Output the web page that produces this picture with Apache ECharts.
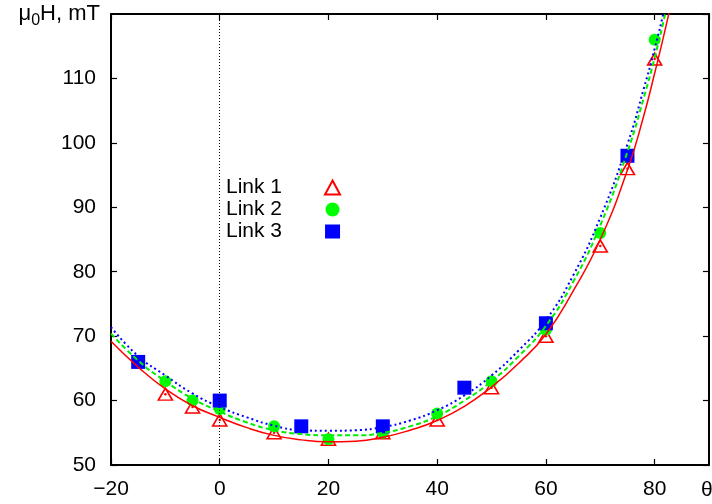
<!DOCTYPE html>
<html><head><meta charset="utf-8">
<script src="https://cdn.jsdelivr.net/npm/echarts@6/dist/echarts.min.js"></script>
<style>html,body{margin:0;padding:0;background:#fff}#c{width:712px;height:504px}</style>
</head><body><div id="c"></div>
<script>
// ---- data ----
const xTickStep = 20;
const yTickStep = 10;
const link1X = [-10, -5, 0, 10, 20, 30, 40, 50, 60, 70, 75, 80];
const link1Y = [61, 59, 57, 55, 54, 55, 57, 62, 70, 84, 96, 113];
const link2X = [-10, -5, 0, 10, 20, 30, 40, 50, 60, 70, 80];
const link2Y = [63, 60, 58.7, 56, 54, 55, 58, 63, 71, 86, 116];
const link3X = [-15, 0, 15, 30, 45, 60, 75];
const link3Y = [66, 60, 56, 56, 62, 72, 98];
const fitX  = [-20, -15, -10, -5, 0, 5, 10, 15, 20, 25, 30, 35, 40, 45, 50, 55, 60, 65, 70, 75, 78, 80, 82, 84];
const fit1Y = [69.2, 65.2, 61.8, 59.2, 57.4, 55.8, 54.6, 53.9, 53.6, 53.7, 54.3, 55.4, 56.9, 59.1, 62.1, 65.8, 70.3, 77.0, 85.0, 95.8, 104.2, 110.8, 117.8, 125.5];
const fit2Y = [70.4, 66.2, 63.0, 60.3, 58.3, 56.6, 55.4, 54.8, 54.6, 54.6, 55.0, 56.0, 57.6, 60.0, 63.0, 66.9, 71.6, 78.4, 87.2, 98.6, 107.0, 113.2, 120.2, 128.0];
const fit3Y = [71.4, 66.9, 63.9, 61.1, 59.0, 57.4, 56.1, 55.4, 55.3, 55.4, 55.9, 56.9, 58.5, 60.8, 63.9, 67.8, 72.5, 79.4, 88.4, 99.8, 108.4, 114.6, 121.6, 130.0];
const seriesNames = ['Link 1', 'Link 2', 'Link 3'];

const pairs = (xs, ys) => xs.map((x, i) => [x, ys[i]]);
const FONT = 'Liberation Sans, Arial, sans-serif';
const FS = 21;

const chart = echarts.init(document.getElementById('c'), null, {renderer: 'canvas'});

const axisCommon = {
  type: 'value',
  axisLine: {show: true, onZero: false, lineStyle: {color: '#000', width: 2}},
  axisTick: {show: true, inside: true, length: 6, lineStyle: {color: '#000', width: 1.2}},
  splitLine: {show: false}
};

const option = {
  animation: false,
  backgroundColor: '#fff',
  grid: {left: 111, right: 3, top: 14, bottom: 39, containLabel: false, outerBoundsMode: 'none'},
  xAxis: [
    Object.assign({}, axisCommon, {
      min: -20, max: 90, interval: xTickStep, position: 'bottom',
      axisLabel: {show: true, color: '#000', fontFamily: FONT, fontSize: FS, margin: 14, showMaxLabel: false,
        formatter: v => (v < 0 ? '\u2212' + (-v) : String(v))}
    }),
    Object.assign({}, axisCommon, {
      min: -20, max: 90, interval: xTickStep, position: 'top',
      axisLabel: {show: false}
    })
  ],
  yAxis: [
    Object.assign({}, axisCommon, {
      min: 50, max: 120, interval: yTickStep, position: 'left',
      axisLabel: {show: true, color: '#000', fontFamily: FONT, fontSize: FS, margin: 15, showMaxLabel: false},
      name: '{m|\u03bc}{s|0}{a|H, mT}',
      nameLocation: 'end',
      nameGap: 0,
      nameTextStyle: {
        align: 'right', verticalAlign: 'middle', padding: [0, 11, 0, 0],
        rich: {
          m: {fontFamily: FONT, fontSize: 22, color: '#000', lineHeight: 30},
          a: {fontFamily: FONT, fontSize: 22, color: '#000', lineHeight: 30},
          s: {fontFamily: FONT, fontSize: 16, color: '#000', lineHeight: 15, verticalAlign: 'bottom'}
        }
      }
    }),
    Object.assign({}, axisCommon, {
      min: 50, max: 120, interval: yTickStep, position: 'right',
      axisLabel: {show: false}
    })
  ],
  legend: {
    orient: 'vertical',
    left: 221, top: 172,
    align: 'right',
    itemWidth: 15, itemHeight: 14,
    itemGap: 1,
    data: seriesNames,
    textStyle: {fontFamily: FONT, fontSize: FS, color: '#000', padding: [0, 38, 0, 0]}
  },
  graphic: [
    {type: 'text', left: 701, top: 480, style: {text: '\u03b8', font: FS + 'px ' + FONT, fill: '#000'}}
  ],
  series: [
    {
      name: 'Link 1', type: 'scatter', symbol: 'triangle', symbolSize: [14, 12],
      itemStyle: {color: 'rgba(255,255,255,0)', borderColor: '#ff0000', borderWidth: 1.6, opacity: 1},
      data: pairs(link1X, link1Y), z: 2,
      markLine: {
        silent: true, symbol: 'none', label: {show: false}, animation: false,
        lineStyle: {color: '#000', width: 1, type: [1, 2]},
        data: [{xAxis: 0}]
      }
    },
    {
      name: 'Link 1 dot', type: 'scatter', symbol: 'circle', symbolSize: 2.5,
      itemStyle: {color: '#ff0000', opacity: 1}, data: pairs(link1X, link1Y), z: 2, silent: true
    },
    {
      name: 'Link 2', type: 'scatter', symbol: 'circle', symbolSize: 12,
      itemStyle: {color: '#00ff00', opacity: 1}, data: pairs(link2X, link2Y), z: 3
    },
    {
      name: 'Link 3', type: 'scatter', symbol: 'rect', symbolSize: 14,
      itemStyle: {color: '#0000ff', opacity: 1}, data: pairs(link3X, link3Y), z: 4
    },
    {
      name: 'fit 1', type: 'line', smooth: true, showSymbol: false, symbol: 'none', clip: true,
      lineStyle: {color: '#ff0000', width: 1.5, type: 'solid'},
      data: pairs(fitX, fit1Y), z: 5, silent: true
    },
    {
      name: 'fit 2', type: 'line', smooth: true, showSymbol: false, symbol: 'none', clip: true,
      lineStyle: {color: '#00ee00', width: 2, type: [5, 3]},
      data: pairs(fitX, fit2Y), z: 5, silent: true
    },
    {
      name: 'fit 3', type: 'line', smooth: true, showSymbol: false, symbol: 'none', clip: true,
      lineStyle: {color: '#0000ff', width: 2, type: [2, 3]},
      data: pairs(fitX, fit3Y), z: 5, silent: true
    }
  ]
};
chart.setOption(option);
</script>
</body></html>
